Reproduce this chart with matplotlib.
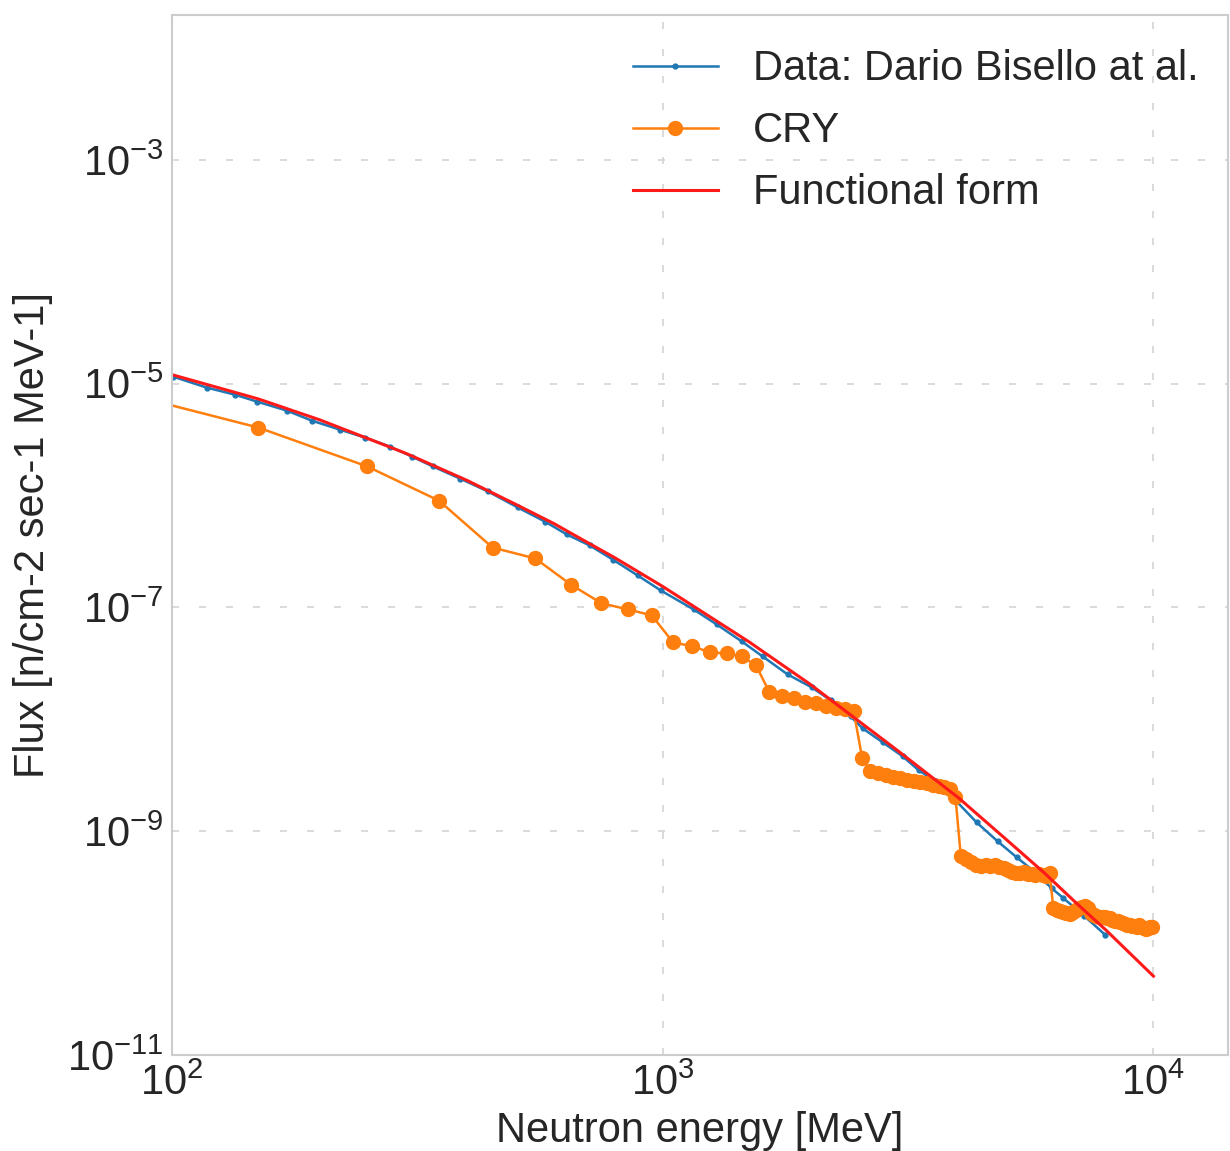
import matplotlib
matplotlib.use('Agg')
import matplotlib.pyplot as plt

# measured spectrum (Bisello et al.), energy in MeV, flux in n/cm2/s/MeV
bisello_energy = [100.5, 117.8, 134.4, 149.0, 171.5, 192.8, 219.9, 247.3, 278.0, 308.2,
                  340.1, 386.0, 440.2, 506.6, 575.2, 637.6, 710.1, 791.0, 889.4, 990.6,
                  1156, 1288, 1449, 1598, 1797, 2012, 2199, 2415, 2555, 2806,
                  3083, 3322, 3597, 3933, 4361, 4812, 5260, 5670, 6199, 6556,
                  7236, 7984]
bisello_flux = [1.155e-5, 9.21e-6, 7.97e-6, 6.91e-6, 5.74e-6, 4.67e-6, 3.88e-6, 3.30e-6, 2.74e-6, 2.23e-6,
                1.82e-6, 1.42e-6, 1.09e-6, 7.82e-7, 5.86e-7, 4.49e-7, 3.58e-7, 2.68e-7, 1.93e-7, 1.42e-7,
                9.6e-8, 7.05e-8, 4.97e-8, 3.65e-8, 2.52e-8, 1.93e-8, 1.48e-8, 1.06e-8, 8.3e-9, 6.24e-9,
                4.67e-9, 3.51e-9, 2.79e-9, 1.93e-9, 1.20e-9, 8.14e-10, 5.86e-10, 4.49e-10, 3.10e-10, 2.52e-10,
                1.74e-10, 1.18e-10]

# CRY generator output, 100 MeV bins
cry_energy = [50, 150, 250, 350, 450, 550, 650, 750, 850, 950,
              1050, 1150, 1250, 1350, 1450, 1550, 1650, 1750, 1850, 1950,
              2050, 2150, 2250, 2350, 2450, 2550, 2650, 2750, 2850, 2950,
              3050, 3150, 3250, 3350, 3450, 3550, 3650, 3750, 3850, 3950,
              4050, 4150, 4250, 4350, 4450, 4550, 4650, 4750, 4850, 4950,
              5050, 5150, 5250, 5350, 5450, 5550, 5650, 5750, 5850, 5950,
              6050, 6150, 6250, 6350, 6450, 6550, 6650, 6750, 6850, 6950,
              7050, 7150, 7250, 7350, 7450, 7550, 7650, 7750, 7850, 7950,
              8050, 8150, 8250, 8350, 8450, 8550, 8650, 8750, 8850, 8950,
              9050, 9150, 9250, 9350, 9450, 9550, 9650, 9750, 9850, 9950]
cry_flux = [1.39e-5, 4.05e-6, 1.82e-6, 9.0e-7, 3.43e-7, 2.74e-7, 1.60e-7, 1.09e-7, 9.6e-8, 8.5e-8,
            4.87e-8, 4.49e-8, 3.97e-8, 3.88e-8, 3.65e-8, 3.03e-8, 1.74e-8, 1.60e-8, 1.54e-8, 1.42e-8,
            1.39e-8, 1.31e-8, 1.25e-8, 1.23e-8, 1.18e-8, 4.49e-9, 3.43e-9, 3.30e-9, 3.16e-9, 3.03e-9,
            2.97e-9, 2.85e-9, 2.79e-9, 2.74e-9, 2.68e-9, 2.58e-9, 2.52e-9, 2.47e-9, 2.37e-9, 2.01e-9,
            5.98e-10, 5.62e-10, 5.29e-10, 4.97e-10, 4.87e-10, 4.97e-10, 4.87e-10, 4.97e-10, 4.77e-10, 4.67e-10,
            4.49e-10, 4.30e-10, 4.22e-10, 4.22e-10, 4.30e-10, 4.13e-10, 4.13e-10, 4.05e-10, 4.13e-10, 4.05e-10,
            3.97e-10, 4.22e-10, 2.05e-10, 1.97e-10, 1.93e-10, 1.89e-10, 1.85e-10, 1.82e-10, 1.89e-10, 1.97e-10,
            2.05e-10, 2.10e-10, 2.14e-10, 2.05e-10, 1.85e-10, 1.78e-10, 1.74e-10, 1.71e-10, 1.71e-10, 1.71e-10,
            1.67e-10, 1.67e-10, 1.60e-10, 1.57e-10, 1.57e-10, 1.54e-10, 1.51e-10, 1.48e-10, 1.45e-10, 1.45e-10,
            1.42e-10, 1.42e-10, 1.39e-10, 1.45e-10, 1.39e-10, 1.36e-10, 1.33e-10, 1.36e-10, 1.39e-10, 1.39e-10]

# fitted functional form
fit_energy = [100, 150, 200, 300, 400, 500, 600, 700, 800, 1000,
              1500, 2000, 3000, 4000, 5000, 6000, 7000, 8000, 10000]
fit_flux = [1.203e-5, 7.30e-6, 4.75e-6, 2.38e-6, 1.361e-6, 8.41e-7, 5.62e-7, 3.84e-7, 2.77e-7, 1.54e-7,
            4.92e-8, 2.05e-8, 5.32e-9, 2.00e-9, 8.52e-10, 4.22e-10, 2.23e-10, 1.31e-10, 5.07e-11]

xticks = [1e2, 1e3, 1e4]
yticks = [1e-11, 1e-9, 1e-7, 1e-5, 1e-3]

plt.rcParams['font.family'] = ['Liberation Sans', 'DejaVu Sans']
plt.rcParams['mathtext.fontset'] = 'custom'
plt.rcParams['mathtext.rm'] = 'Liberation Sans'
plt.rcParams['mathtext.it'] = 'Liberation Sans:italic'
plt.rcParams['mathtext.bf'] = 'Liberation Sans:bold'
plt.rcParams['font.size'] = 30
plt.rcParams['text.color'] = '#262626'
plt.rcParams['axes.labelcolor'] = '#262626'
plt.rcParams['xtick.color'] = '#262626'
plt.rcParams['ytick.color'] = '#262626'


def main():
    fig = plt.figure(figsize=(12.3, 11.51), dpi=100)
    ax = fig.add_axes([0.1398, 0.0834, 0.8582, 0.9036])

    ax.plot(bisello_energy, bisello_flux, color='#1f77b4', lw=1.8, marker='o', ms=3.5,
            label='Data: Dario Bisello at al.')
    ax.plot(cry_energy, cry_flux, color='#ff7f0e', lw=1.8, marker='o', ms=10, label='CRY')
    ax.plot(fit_energy, fit_flux, color='#ff1a1a', lw=2.2, label='Functional form')

    ax.set_xscale('log')
    ax.set_yscale('log')
    ax.set_xlim(100, 10 ** 4.151)
    ax.set_ylim(1e-11, 10 ** -1.705)
    ax.set_xticks(xticks)
    ax.set_yticks(yticks)
    ax.minorticks_off()
    ax.tick_params(length=0, pad=6)

    # light dashed grid, pale frame
    ax.grid(True, color='#d4d4d4', linestyle=(0, (4.2, 12)), lw=1.2)
    for s in ax.spines.values():
        s.set_color('#cccccc')
        s.set_linewidth(1.5)

    ax.set_xlabel('Neutron energy [MeV]', labelpad=5)
    ax.set_ylabel('Flux [n/cm-2 sec-1 MeV-1]', labelpad=10)

    ax.legend(loc='upper right', frameon=False, handlelength=2.04, handletextpad=0.84,
              labelspacing=0.53, borderaxespad=0.3, bbox_to_anchor=(1.0, 0.995))

    fig.savefig('out.png', dpi=100)


if __name__ == '__main__':
    main()
